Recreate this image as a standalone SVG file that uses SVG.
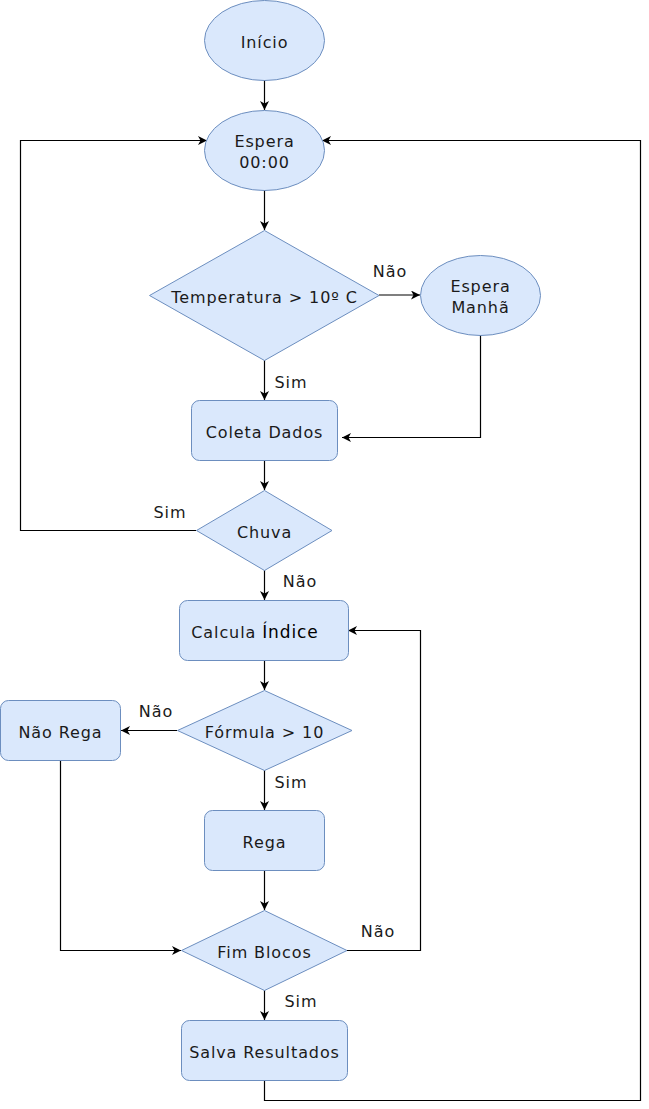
<svg xmlns="http://www.w3.org/2000/svg" width="649" height="1109" viewBox="0 0 649 1109">
<style>
.n{fill:#dae8fc;stroke:#6c8ebf;stroke-width:1}
.t{font-family:"DejaVu Sans",Verdana,sans-serif;font-size:16px;fill:#1a1a1a;text-anchor:middle;letter-spacing:0.9px}
.c{fill:none;stroke:#000;stroke-width:1.2}
</style>
<defs>
<marker id="a" markerUnits="userSpaceOnUse" markerWidth="10" markerHeight="10" refX="9" refY="4.5" orient="auto">
<path d="M0,0 L9,4.5 L0,9 L2.5,4.5 Z" fill="#000"/>
</marker>
</defs>
<rect width="649" height="1109" fill="#fff"/>
<g id="connectors">
<path class="c" marker-end="url(#a)" d="M264.5,80 V110"/>
<path class="c" marker-end="url(#a)" d="M264.5,190 V230"/>
<path class="c" marker-end="url(#a)" d="M379,295 H420"/>
<path class="c" marker-end="url(#a)" d="M264.5,360 V400"/>
<path class="c" marker-end="url(#a)" d="M480.5,335 V437.5 H342"/>
<path class="c" marker-end="url(#a)" d="M264.5,460 V490"/>
<path class="c" marker-end="url(#a)" d="M196,530.5 H20.5 V140.5 H207"/>
<path class="c" marker-end="url(#a)" d="M264.5,570 V600"/>
<path class="c" marker-end="url(#a)" d="M264.5,660 V690"/>
<path class="c" marker-end="url(#a)" d="M177,730.5 H121"/>
<path class="c" marker-end="url(#a)" d="M264.5,770 V810"/>
<path class="c" marker-end="url(#a)" d="M264.5,870 V910"/>
<path class="c" marker-end="url(#a)" d="M60.5,760 V950.5 H181"/>
<path class="c" marker-end="url(#a)" d="M347,950.5 H420.5 V630.5 H348"/>
<path class="c" marker-end="url(#a)" d="M264.5,990 V1020"/>
<path class="c" marker-end="url(#a)" d="M264.5,1080 V1100.5 H640.5 V140.5 H322"/>
<text class="t" x="390" y="277">Não</text>
<text class="t" x="291" y="388">Sim</text>
<text class="t" x="170" y="518">Sim</text>
<text class="t" x="300" y="587">Não</text>
<text class="t" x="156" y="717">Não</text>
<text class="t" x="291" y="788">Sim</text>
<text class="t" x="378" y="937">Não</text>
<text class="t" x="301" y="1007">Sim</text>
</g>
<g id="inicio"><ellipse class="n" cx="264.5" cy="40.5" rx="60" ry="40"/><text class="t" x="264.5" y="47.5">Início</text></g>
<g id="espera0000"><ellipse class="n" cx="264.5" cy="150.5" rx="60" ry="40"/><text class="t" x="264.5" y="146.5">Espera</text><text class="t" x="264.5" y="167.5">00:00</text></g>
<g id="temperatura"><polygon class="n" points="264.5,230.5 379,295.5 264.5,360.5 149.5,295.5"/><text class="t" x="264.5" y="302.5">Temperatura &gt; 10º C</text></g>
<g id="esperamanha"><ellipse class="n" cx="480.5" cy="295.5" rx="60" ry="40"/><text class="t" x="480.5" y="292">Espera</text><text class="t" x="480.5" y="312.5">Manhã</text></g>
<g id="coleta"><rect class="n" x="191.5" y="400.5" width="146" height="60" rx="8"/><text class="t" x="264.5" y="437.5">Coleta Dados</text></g>
<g id="chuva"><polygon class="n" points="264.5,490.5 332,530.5 264.5,570.5 196.5,530.5"/><text class="t" x="264.5" y="537.5">Chuva</text></g>
<g id="calcula"><rect class="n" x="179.5" y="600.5" width="169" height="60" rx="8"/><text class="t" x="255" y="637.5">Calcula <tspan font-size="17" fill="#000">Índice</tspan></text></g>
<g id="formula"><polygon class="n" points="264.5,690.5 352,730.5 264.5,770.5 177.5,730.5"/><text class="t" x="264.5" y="737.5">Fórmula &gt; 10</text></g>
<g id="naorega"><rect class="n" x="0.5" y="700.5" width="120" height="60" rx="8"/><text class="t" x="60.5" y="737.5">Não Rega</text></g>
<g id="rega"><rect class="n" x="204.5" y="810.5" width="120" height="60" rx="8"/><text class="t" x="264.5" y="847.5">Rega</text></g>
<g id="fimblocos"><polygon class="n" points="264.5,910.5 347,950.5 264.5,990.5 181.5,950.5"/><text class="t" x="264.5" y="957.5">Fim Blocos</text></g>
<g id="salva"><rect class="n" x="181.5" y="1020.5" width="166" height="60" rx="8"/><text class="t" x="264.5" y="1057.5">Salva Resultados</text></g>
</svg>
